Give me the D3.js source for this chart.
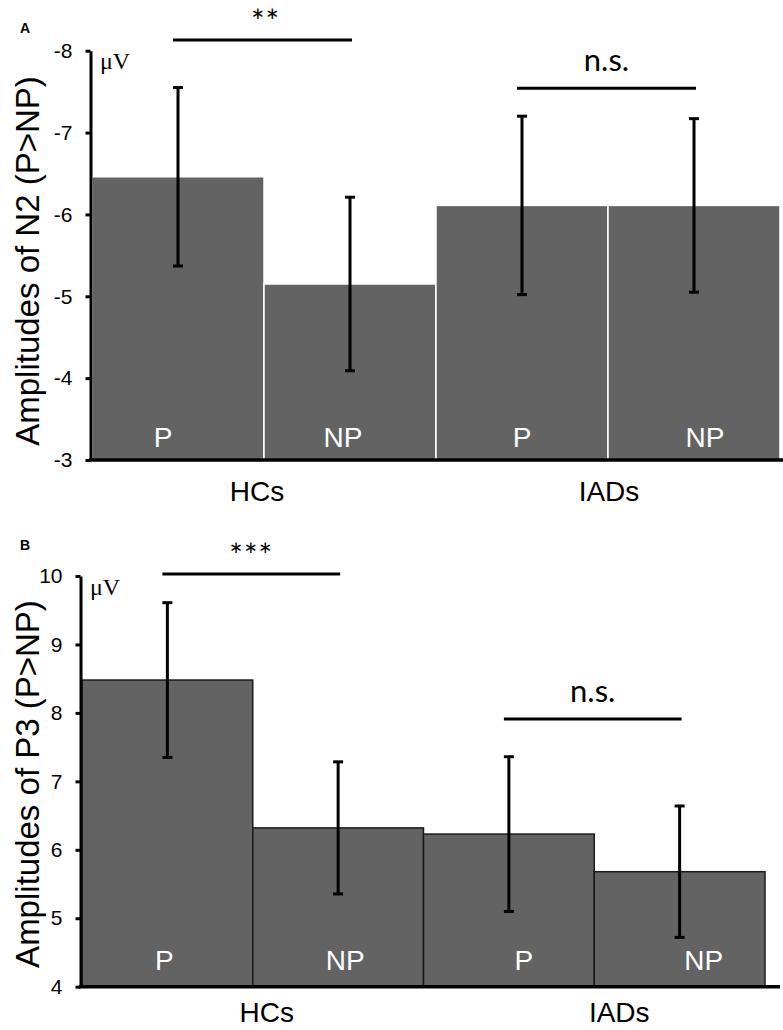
<!DOCTYPE html>
<html>
<head>
<meta charset="utf-8">
<script src="https://cdn.jsdelivr.net/npm/d3@7"></script>
<style>
  body { margin: 0; background: #fff; }
  svg { display: block; }
</style>
</head>
<body>
<script>
var w = 783, h = 1030;

// data
var conditions = ['HCs-P', 'HCs-NP', 'IADs-P', 'IADs-NP'];
var barLabels = ['P', 'NP', 'P', 'NP'];
var groups = ['HCs', 'IADs'];

var n2Mean = [-6.46, -5.15, -6.11, -6.11];
var n2Err = [1.09, 1.06, 1.09, 1.06];
var n2Ticks = [-8, -7, -6, -5, -4, -3];
var n2Sig = ['**', 'n.s.'];
var n2SigLevel = [-8.13, -7.54];

var p3Mean = [8.48, 6.32, 6.23, 5.68];
var p3Err = [1.13, 0.965, 1.13, 0.96];
var p3Ticks = [4, 5, 6, 7, 8, 9, 10];
var p3Sig = ['***', 'n.s.'];
var p3SigLevel = [10.03, 7.91];

var sigPairs = [[0, 1], [2, 3]];

var barFill = '#636363';

var svg = d3.select('body').append('svg')
    .attr('width', w)
    .attr('height', h);

svg.append('rect').attr('width', w).attr('height', h).attr('fill', '#fff');

function drawPanel(cfg) {
    var g = svg.append('g');

    var x = d3.scaleBand().domain(conditions).range(cfg.xRange).padding(0);
    var y = d3.scaleLinear().domain(cfg.domain).range(cfg.yRange);
    var base = cfg.domain[0];
    var bw = x.bandwidth();

    // bars
    g.selectAll('rect.bar')
        .data(cfg.mean)
        .enter()
        .append('rect')
        .attr('class', 'bar')
        .attr('x', (d, i) => x(conditions[i]))
        .attr('y', d => Math.min(y(d), y(base)))
        .attr('width', bw)
        .attr('height', d => Math.abs(y(base) - y(d)))
        .attr('fill', barFill)
        .attr('stroke', cfg.barStroke)
        .attr('stroke-width', 1.5);

    // bar labels
    g.selectAll('text.cond')
        .data(barLabels)
        .enter()
        .append('text')
        .attr('class', 'cond')
        .attr('x', (d, i) => x(conditions[i]) + bw / 2 + cfg.labelDx[i])
        .attr('y', cfg.labelY)
        .attr('text-anchor', 'middle')
        .attr('fill', '#fff')
        .style('font-family', 'Liberation Sans, Arial, sans-serif')
        .style('font-size', '28px')
        .text(d => d);

    // error bars
    var eb = g.selectAll('g.err')
        .data(cfg.mean)
        .enter()
        .append('g')
        .attr('class', 'err')
        .attr('stroke', '#000')
        .attr('stroke-width', 3);
    eb.append('line')
        .attr('x1', (d, i) => x(conditions[i]) + bw / 2)
        .attr('x2', (d, i) => x(conditions[i]) + bw / 2)
        .attr('y1', (d, i) => y(d - cfg.err[i]))
        .attr('y2', (d, i) => y(d + cfg.err[i]));
    [-1, 1].forEach(function(s) {
        eb.append('line')
            .attr('x1', (d, i) => x(conditions[i]) + bw / 2 - 5)
            .attr('x2', (d, i) => x(conditions[i]) + bw / 2 + 5)
            .attr('y1', (d, i) => y(d + s * cfg.err[i]))
            .attr('y2', (d, i) => y(d + s * cfg.err[i]));
    });

    // y axis
    var ax = g.append('g')
        .attr('transform', 'translate(' + (cfg.xRange[0] - 1.5) + ',0)')
        .call(d3.axisLeft(y)
            .tickValues(cfg.ticks)
            .tickFormat(d => String(d))
            .tickSize(5)
            .tickSizeOuter(0)
            .tickPadding(13));
    ax.select('.domain').attr('stroke', '#000').attr('stroke-width', 3);
    ax.selectAll('.tick line').attr('stroke', '#000').attr('stroke-width', 3);
    ax.selectAll('.tick text')
        .attr('fill', '#000')
        .style('font-family', 'Liberation Sans, Arial, sans-serif')
        .style('font-size', '21px');

    // x baseline
    g.append('line')
        .attr('x1', cfg.xRange[0] - 3)
        .attr('x2', cfg.axisEnd)
        .attr('y1', y(base))
        .attr('y2', y(base))
        .attr('stroke', '#000')
        .attr('stroke-width', 3.5);

    // group labels
    g.selectAll('text.grp')
        .data(groups)
        .enter()
        .append('text')
        .attr('class', 'grp')
        .attr('x', (d, i) => x(conditions[i * 2 + 1]) + cfg.groupDx[i])
        .attr('y', cfg.groupY)
        .attr('text-anchor', 'middle')
        .style('font-family', 'Liberation Sans, Arial, sans-serif')
        .style('font-size', '28px')
        .text(d => d);

    // significance brackets
    sigPairs.forEach(function(p, k) {
        var x1 = x(conditions[p[0]]) + bw / 2 - 5;
        var x2 = x(conditions[p[1]]) + bw / 2 + 2;
        var ly = y(cfg.sigLevel[k]);
        g.append('line')
            .attr('x1', x1).attr('x2', x2)
            .attr('y1', ly).attr('y2', ly)
            .attr('stroke', '#000')
            .attr('stroke-width', 3);
        var isStar = cfg.sig[k].indexOf('*') >= 0;
        g.append('text')
            .attr('x', (x1 + x2) / 2 + cfg.sigDx[k])
            .attr('y', ly + (isStar ? -7 : -17))
            .attr('text-anchor', 'middle')
            .style('font-family', 'Lato, Open Sans, sans-serif')
            .style('font-size', isStar ? '32px' : '31px')
            .style('letter-spacing', isStar ? '1px' : '0px')
            .text(cfg.sig[k]);
    });

    // unit
    g.append('text')
        .attr('x', cfg.xRange[0] + 8)
        .attr('y', y(cfg.domain[1]) + cfg.unitDy)
        .style('font-family', 'Liberation Serif, Times New Roman, serif')
        .style('font-size', '24px')
        .text('\u03bcV');

    // y title
    g.append('text')
        .attr('transform', 'translate(39,' + cfg.titleY + ') rotate(-90)')
        .attr('text-anchor', 'middle')
        .style('font-family', 'Liberation Sans, Arial, sans-serif')
        .style('font-size', '33px')
        .text(cfg.title);

    // panel letter
    g.append('text')
        .attr('x', 20)
        .attr('y', cfg.letterY)
        .style('font-family', 'Liberation Sans, Arial, sans-serif')
        .style('font-size', '14px')
        .style('font-weight', 'bold')
        .text(cfg.letter);
}

drawPanel({
    letter: 'A', letterY: 33,
    mean: n2Mean, err: n2Err, ticks: n2Ticks,
    sig: n2Sig, sigLevel: n2SigLevel, sigDx: [3, 0],
    domain: [-3, -8], yRange: [460, 50.7],
    xRange: [92, 780], axisEnd: 783,
    barStroke: '#fff',
    labelY: 447, labelDx: [-15, -7, 0, 11],
    groupY: 501, groupDx: [-7, 1],
    unitDy: 18,
    title: 'Amplitudes of N2 (P>NP)', titleY: 261
});

drawPanel({
    letter: 'B', letterY: 550,
    mean: p3Mean, err: p3Err, ticks: p3Ticks,
    sig: p3Sig, sigLevel: p3SigLevel, sigDx: [0, 0],
    domain: [4, 10], yRange: [986.7, 576],
    xRange: [82, 765], axisEnd: 780,
    barStroke: '#1a1a1a',
    labelY: 970, labelDx: [-3, 7, 15, 24],
    groupY: 1022, groupDx: [14, 25],
    unitDy: 19,
    title: 'Amplitudes of P3 (P>NP)', titleY: 784
});
</script>
</body>
</html>
